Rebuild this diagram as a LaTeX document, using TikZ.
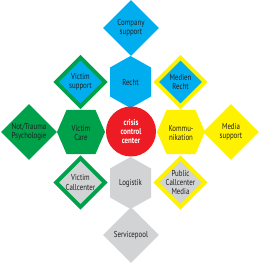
\documentclass[tikz,border=0pt]{standalone}
\usepackage{fontspec}
\setmainfont{PT Sans}[FakeStretch=0.8]
\usetikzlibrary{shapes.geometric}
\definecolor{ccBlue}{HTML}{00AEEF}
\definecolor{ccGreen}{HTML}{00A14B}
\definecolor{ccYellow}{HTML}{FFF200}
\definecolor{ccRed}{HTML}{ED1C24}
\definecolor{ccGrey}{HTML}{D1D3D4}
\definecolor{ccText}{HTML}{231F20}
\tikzset{
  txt/.style={align=center, text=ccText, inner sep=0pt,
    font=\fontsize{8.6}{9.2}\selectfont},
  rhomb/.style={diamond, aspect=1, minimum size=56pt, inner sep=0pt, fill=#1},
  ring/.style 2 args={diamond, aspect=1, minimum size=50.4pt, inner sep=0pt,
    line width=4pt, draw=#1, fill=#2},
  every picture/.style={line join=miter}
}

\begin{document}
\begin{tikzpicture}[x=1pt, y=-1pt]
  \useasboundingbox (0,0) rectangle (260,264);

  % Top diamond
  \node[rhomb=ccBlue, label={[txt]center:Company\\support}] (comp) at (131,28) {};

  % Second row
  \node[ring={ccGreen}{ccBlue}, label={[txt]center:Victim\\support}] (vsup) at (80.5,82) {};
  \node[ring={ccYellow}{ccBlue}, label={[txt]center:Medien\\Recht}] (mrecht) at (180.5,82) {};

  % Middle row
  \node[rhomb=ccGreen, label={[txt]center:Not/Trauma\\Psychologie}] (psych) at (29,132) {};
  \node[rhomb=ccYellow, label={[txt]center:Media\\support}] (msup) at (231,132) {};

  % Third row
  \node[ring={ccGreen}{ccGrey}, label={[txt]center:Victim\\Callcenter}] (vcall) at (80.5,182.5) {};
  \node[ring={ccYellow}{ccGrey}, label={[txt]center:Public\\Callcenter\\Media}] (pcall) at (180.5,182.5) {};

  % Bottom diamond
  \node[rhomb=ccGrey, label={[txt]center:Servicepool}] (spool) at (131,235) {};

  % Hexagons round the centre
  \fill[ccBlue] (130.5,82) +(0,-26) -- +(20.5,-14.5) -- +(20.5,14.5) -- +(0,26)
    -- +(-20.5,14.5) -- +(-20.5,-14.5) -- cycle;
  \fill[ccGrey] (130.5,183) +(0,-26) -- +(20.5,-14.5) -- +(20.5,14.5) -- +(0,26)
    -- +(-20.5,14.5) -- +(-20.5,-14.5) -- cycle;
  \fill[ccGreen] (81,132) +(-24,0) -- +(-14.5,-22) -- +(14.5,-22) -- +(24,0)
    -- +(14.5,22) -- +(-14.5,22) -- cycle;
  \fill[ccYellow] (181,132) +(-24,0) -- +(-14.5,-22) -- +(14.5,-22) -- +(24,0)
    -- +(14.5,22) -- +(-14.5,22) -- cycle;
  \node[txt] (recht) at (130.5,82.5) {Recht};
  \node[txt] (logi) at (130.5,183) {Logistik};
  \node[txt] (vcare) at (81,133) {Victim\\Care};
  \node[txt] (komm) at (181,133) {Kommu-\\nikation};

  % Centre
  \node[circle, fill=ccRed, minimum size=50pt, inner sep=0pt,
    label={[txt, text=white, font=\fontsize{8.6}{9.2}\selectfont\bfseries]center:crisis\\control\\center}] (ccc) at (131,131.5) {};
\end{tikzpicture}
\end{document}
